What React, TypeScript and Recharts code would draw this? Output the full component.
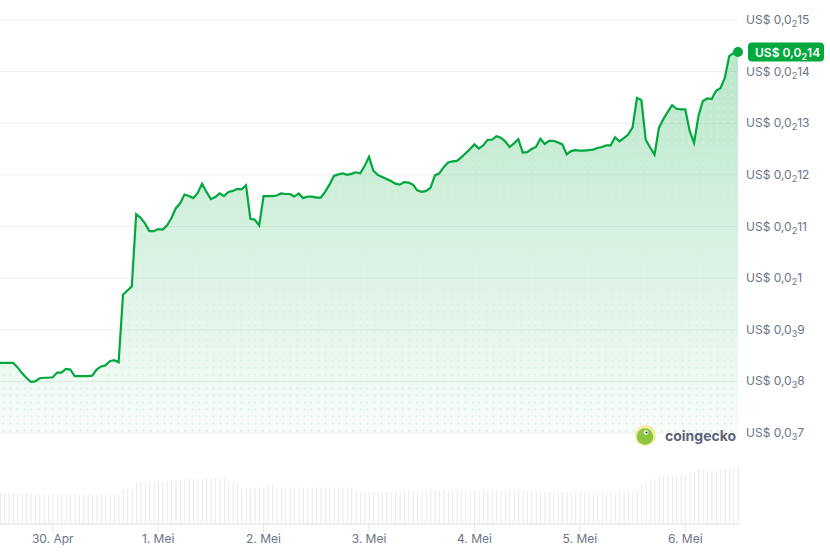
import { ComposedChart, Area, Line, Bar, XAxis, YAxis, CartesianGrid, ReferenceDot } from 'recharts';

// hourly points, 29. Apr 12:00 -> 6. Mei 12:00
const dayLabels = ['30. Apr', '1. Mei', '2. Mei', '3. Mei', '4. Mei', '5. Mei', '6. Mei'];
const dayTickHours = [12, 36, 60, 84, 108, 132, 156];

const priceTicks = [0.0007, 0.0008, 0.0009, 0.001, 0.0011, 0.0012, 0.0013, 0.0014, 0.0015];

// price in USD
const prices = [
    0.000836, 0.000836, 0.000836, 0.000836, 0.000827, 0.000816, 0.000807, 0.000799, 0.0008, 0.000806, 0.000807, 0.000807,
    0.000808, 0.000817, 0.000817, 0.000824, 0.000823, 0.00081, 0.00081, 0.00081, 0.00081, 0.000811, 0.000823, 0.000829,
    0.000831, 0.000839, 0.000841, 0.000837, 0.000968, 0.000976, 0.000984, 0.001124, 0.001117, 0.001106, 0.001091, 0.001091,
    0.001095, 0.001094, 0.001102, 0.001116, 0.001135, 0.001145, 0.001162, 0.001159, 0.001155, 0.001165, 0.001183, 0.001167,
    0.001153, 0.001157, 0.001164, 0.001159, 0.001167, 0.001169, 0.001173, 0.001172, 0.00118, 0.001115, 0.001113, 0.001102,
    0.001159, 0.001159, 0.001159, 0.00116, 0.001164, 0.001163, 0.001163, 0.001158, 0.001164, 0.001155, 0.001158, 0.001158,
    0.001156, 0.001156, 0.001167, 0.001181, 0.001198, 0.001201, 0.001203, 0.0012, 0.001202, 0.001205, 0.001203, 0.001217,
    0.001235, 0.001208, 0.0012, 0.001196, 0.001192, 0.001188, 0.001183, 0.001181, 0.001186, 0.001185, 0.001181, 0.00117,
    0.001167, 0.001169, 0.001175, 0.001199, 0.001203, 0.001215, 0.001224, 0.001226, 0.001227, 0.001234, 0.001242, 0.00125,
    0.001259, 0.001251, 0.001257, 0.001268, 0.001268, 0.001275, 0.001272, 0.001265, 0.001254, 0.001261, 0.001269, 0.001243,
    0.001244, 0.00125, 0.001254, 0.00127, 0.00126, 0.001266, 0.001266, 0.001263, 0.001259, 0.00124, 0.001246, 0.001248,
    0.001247, 0.001247, 0.001248, 0.001249, 0.001252, 0.001254, 0.001257, 0.001257, 0.001273, 0.001265, 0.001271, 0.001278,
    0.001292, 0.001349, 0.001345, 0.001268, 0.001253, 0.001239, 0.001291, 0.001308, 0.001322, 0.001335, 0.001328, 0.001327,
    0.001327, 0.001285, 0.001262, 0.001314, 0.001343, 0.001348, 0.001347, 0.001363, 0.001368, 0.001388, 0.00143, 0.001436, 0.001438,
];

// trading volume, thousand USD
const volumes = [
    62, 62, 62, 62, 62, 62, 62, 62, 59, 59, 59, 59,
    59, 59, 59, 59, 59, 59, 59, 59, 59, 59, 59, 60,
    60, 60, 60, 60, 70, 70, 70, 83, 85, 85, 85, 85,
    85, 85, 85, 87, 87, 87, 90, 90, 90, 90, 90, 92,
    92, 92, 92, 92, 83, 83, 83, 71, 71, 71, 71, 71,
    75, 79, 79, 73, 73, 73, 73, 73, 73, 73, 73, 73,
    73, 73, 73, 73, 73, 73, 73, 73, 73, 65, 65, 65,
    64, 64, 64, 64, 64, 64, 64, 64, 64, 67, 67, 67,
    67, 67, 67, 67, 67, 67, 67, 67, 67, 67, 68, 66,
    66, 66, 66, 66, 66, 66, 66, 66, 66, 66, 66, 66,
    66, 66, 66, 64, 64, 64, 64, 64, 64, 64, 64, 64,
    64, 64, 63, 63, 63, 63, 63, 63, 63, 63, 63, 63,
    63, 69, 79, 85, 89, 89, 97, 97, 97, 97, 96, 96,
    96, 103, 105, 109, 109, 109, 109, 109, 109, 111, 111, 114, 114,
];

const data = prices.map((price, hour) => ({ hour, price, volume: volumes[hour] }));
const lastHour = prices.length - 1;
const lastPrice = prices[lastHour];

const GREEN = '#00a83e';
const FONT = 'Inter, "Noto Sans", sans-serif';

// 0.0015 -> { zeros: 2, digits: "15" }
const splitPrice = (v: number) => {
    const frac = Number(v.toPrecision(2)).toString().split('.')[1] || '';
    const zeros = (frac.match(/^0*/) || [''])[0].length;
    return { zeros, digits: frac.slice(zeros) };
};

const PriceTick = (props: any) => {
    const { x, y, payload } = props;
    const { zeros, digits } = splitPrice(payload.value);
    return (
        <text x={x} y={y} dy={4} fill="#6a7487" fontSize={12} fontFamily={FONT}>
            US$ 0,0<tspan fontSize={9} dy={3}>{zeros}</tspan><tspan dy={-3}>{digits}</tspan>
        </text>
    );
};

const PriceMarker = (props: any) => {
    const { cx, cy } = props;
    const { zeros, digits } = splitPrice(lastPrice);
    return (
        <g>
            <circle cx={cx} cy={cy} r={5} fill={GREEN} />
            <rect x={cx + 10} y={cy - 9.5} width={76} height={19} rx={4} fill={GREEN} />
            <text x={cx + 17} y={cy + 4.5} fill="#fff" fontSize={12} fontWeight={600} fontFamily={FONT}>
                US$ 0,0<tspan fontSize={9} dy={3}>{zeros}</tspan><tspan dy={-3}>{digits}</tspan>
            </text>
        </g>
    );
};

const Watermark = () => (
    <svg width={830} height={555} style={{ position: 'absolute', left: 0, top: 0, pointerEvents: 'none' }}>
        <circle cx={645.5} cy={435.5} r={10.5} fill="#f3eca2" />
        <circle cx={645} cy={436.5} r={8.3} fill="#8cc63f" />
        <circle cx={646} cy={432.5} r={2.3} fill="#fff" />
        <circle cx={646.5} cy={432.5} r={1.1} fill="#3b3b3b" />
        <text x={665} y={440.5} fill="#5b6575" fontSize={14} fontWeight={700} fontFamily={FONT}>coingecko</text>
    </svg>
);

const App = () => {
    return (
        <div style={{ position: 'absolute', left: 0, top: 0, width: 830, height: 555, background: '#fff' }}>
            <ComposedChart
                width={830}
                height={555}
                data={data}
                margin={{ top: 20, right: 0, left: 0, bottom: 0 }}
            >
                <defs>
                    <linearGradient id="priceFill" x1="0" y1="0" x2="0" y2="1">
                        <stop offset="0%" stopColor={GREEN} stopOpacity={0.28} />
                        <stop offset="100%" stopColor={GREEN} stopOpacity={0.03} />
                    </linearGradient>
                    <pattern id="dots" patternUnits="userSpaceOnUse" width={7} height={7}>
                        <circle cx={3.5} cy={3.5} r={1} fill="#d6f0de" />
                    </pattern>
                </defs>
                <CartesianGrid yAxisId="price" vertical={false} stroke="#eef0f3" />
                <XAxis
                    dataKey="hour"
                    type="number"
                    domain={[0, 168]}
                    ticks={dayTickHours}
                    interval={0}
                    tickFormatter={(h: number) => dayLabels[dayTickHours.indexOf(h)]}
                    height={31}
                    tickSize={9}
                    tickMargin={1}
                    axisLine={{ stroke: '#e6e8ec' }}
                    tickLine={{ stroke: '#e6e8ec' }}
                    tick={{ fill: '#6a7487', fontSize: 12, fontFamily: FONT }}
                />
                {/* lower bound puts 0.0007 on the grid line just above the volume bars */}
                <YAxis
                    yAxisId="price"
                    orientation="right"
                    width={92}
                    domain={[0.00052373, 0.0015]}
                    ticks={priceTicks}
                    interval={0}
                    axisLine={false}
                    tickLine={false}
                    tick={<PriceTick />}
                />
                <YAxis yAxisId="vol" hide domain={[0, 1008]} />
                <Bar yAxisId="vol" dataKey="volume" fill="#e6e9ee" barSize={1} isAnimationActive={false} />
                <Area
                    yAxisId="price"
                    type="linear"
                    dataKey="price"
                    baseValue={0.0007}
                    stroke="none"
                    fill="url(#priceFill)"
                    fillOpacity={1}
                    isAnimationActive={false}
                />
                <Area
                    yAxisId="price"
                    type="linear"
                    dataKey="price"
                    baseValue={0.0007}
                    stroke="none"
                    fill="url(#dots)"
                    fillOpacity={1}
                    isAnimationActive={false}
                />
                <Line
                    yAxisId="price"
                    type="linear"
                    dataKey="price"
                    stroke={GREEN}
                    strokeWidth={2.2}
                    dot={false}
                    activeDot={false}
                    isAnimationActive={false}
                />
                <ReferenceDot yAxisId="price" x={lastHour} y={lastPrice} r={5} shape={PriceMarker} />
            </ComposedChart>
            <Watermark />
        </div>
    );
};

export default App;
